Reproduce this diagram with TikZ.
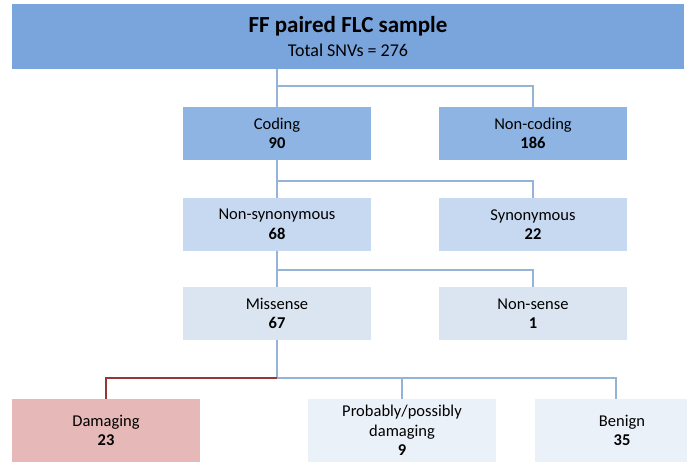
\documentclass[tikz,border=0pt]{standalone}
\usepackage{fontspec}
\setmainfont{Carlito}
\usetikzlibrary{positioning}

\definecolor{topblue}{RGB}{121,164,220}
\definecolor{midblue}{RGB}{141,180,226}
\definecolor{paleblue}{RGB}{198,217,241}
\definecolor{misblue}{RGB}{219,229,241}
\definecolor{lowblue}{RGB}{235,241,249}
\definecolor{dmgred}{RGB}{230,184,183}
\definecolor{linkblue}{RGB}{149,179,215}
\definecolor{linkred}{RGB}{149,55,53}

\begin{document}
\begin{tikzpicture}[
  x=1pt, y=-1pt,
  font=\fontsize{16.5}{19.5}\selectfont,
  box/.style={draw=none, align=center, inner sep=0pt, outer sep=0pt,
              minimum width=188pt, minimum height=53pt},
  lvlone/.style={box, fill=midblue},
  lvltwo/.style={box, fill=paleblue},
  lvlthree/.style={box, fill=misblue},
  leafbox/.style={box, fill=lowblue, minimum height=63pt},
  dmgbox/.style={leafbox, fill=dmgred},
  link/.style={draw=linkblue, line width=1.8pt},
  redlink/.style={draw=linkred, line width=1.8pt},
]
\clip (0,0) rectangle (687,463);

% --- sample ---
\node[box, fill=topblue, minimum width=672pt, minimum height=65pt] (top) at (348,36.5)
  {{\fontsize{23}{26}\selectfont\bfseries FF paired FLC sample}\\[4pt]
   {\fontsize{18}{22}\selectfont Total SNVs = 276}};

% --- coding / non-coding ---
\node[lvlone] (coding) at (277,133.5) {Coding\\ \textbf{90}};
\node[lvlone, right=68pt of coding] (noncoding) {Non-coding\\ \textbf{186}};

% --- synonymous or not ---
\node[lvltwo, below=38pt of coding] (nonsyn) {Non-synonymous\\ \textbf{68}};
\node[lvltwo, right=68pt of nonsyn] (syn) {Synonymous\\ \textbf{22}};

% --- missense / non-sense ---
\node[lvlthree, below=36pt of nonsyn] (missense) {Missense\\ \textbf{67}};
\node[lvlthree, right=68pt of missense] (nonsense) {Non-sense\\ \textbf{1}};

% --- predicted effect ---
\node[dmgbox] (damaging) at (106,430.5) {Damaging\\ \textbf{23}};
\node[leafbox, right=108pt of damaging] (probably)
  {Probably/possibly\\ damaging\\ \textbf{9}};
\node[leafbox, minimum width=174pt, right=39pt of probably] (benign) {Benign\\ \textbf{35}};

% --- tree links ---
\draw[link] (top.south -| coding.north) -- (coding.north);
\draw[link] (coding.north) ++(0,-21) -| (noncoding.north);
\draw[link] (coding.south) -- (nonsyn.north);
\draw[link] (nonsyn.north) ++(0,-17) -| (syn.north);
\draw[link] (nonsyn.south) -- (missense.north);
\draw[link] (missense.north) ++(0,-17) -| (nonsense.north);
\draw[link] (missense.south) -- ++(0,38) -| ([xshift=-6pt]benign.north);
\draw[link] (missense.south) ++(0,38) -| (probably.north);
\draw[redlink] (missense.south) ++(0,38) -| (damaging.north);

\end{tikzpicture}
\end{document}
